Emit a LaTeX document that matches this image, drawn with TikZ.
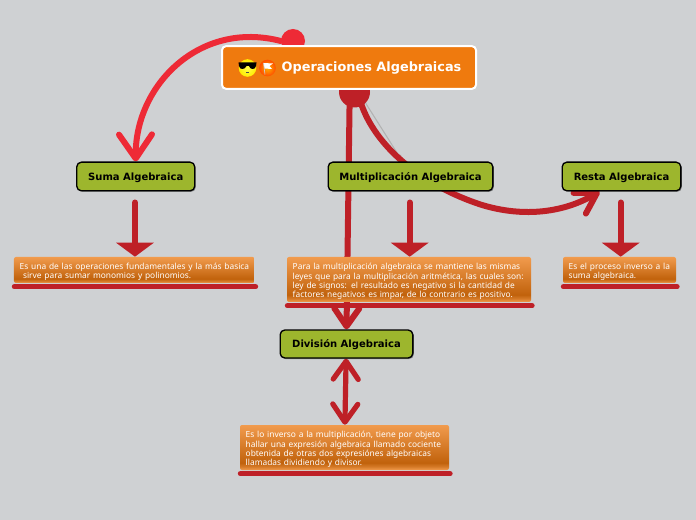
\documentclass[tikz,border=0pt]{standalone}
\usepackage{fontspec}
\setmainfont{Noto Sans}
\newfontfamily\titlefont{DejaVu Sans}
\usetikzlibrary{arrows.meta,shadows,calc}
\definecolor{bgc}{HTML}{CFD1D3}
\definecolor{deepred}{HTML}{BE2027}
\definecolor{brightred}{HTML}{EE2A36}
\definecolor{titleorange}{HTML}{EF7A0E}
\definecolor{leaf}{HTML}{9DB62D}
\definecolor{nlight}{HTML}{F19B4D}
\definecolor{ndark}{HTML}{C1620C}
\pgfdeclarelayer{bglayer}
\pgfdeclarelayer{connlayer}
\pgfsetlayers{bglayer,connlayer,main}
\pgfdeclareverticalshading{noteshade}{100bp}{
  color(0bp)=(nlight); color(25bp)=(nlight); color(29bp)=(ndark!60!nlight);
  color(33bp)=(ndark); color(75bp)=(nlight); color(100bp)=(nlight)}
\newcommand\tstrut{\rule{0pt}{8pt}}
\tikzset{
  x=.75pt,y=-.75pt,
  titlebox/.style={draw=white,line width=1.5pt,fill=titleorange,rounded corners=3pt,minimum width=190.5pt,minimum height=32pt,inner sep=0pt},
  titletext/.style={text=white,inner sep=0pt,font=\titlefont\bfseries\fontsize{9.65}{11}\selectfont},
  leafbox/.style={draw=black,line width=1pt,fill=leaf,rounded corners=3.5pt,minimum height=21.5pt,inner sep=0pt,
    font=\titlefont\bfseries\fontsize{7.5}{9}\selectfont,text=black,text height=7pt,text depth=1.5pt,
    drop shadow={shadow xshift=.8pt,shadow yshift=-.8pt,opacity=.35,fill=black}},
  notebox/.style={shading=noteshade,rounded corners=1.5pt,inner ysep=0pt,inner xsep=4.3pt,align=left,text=white,
    font=\fontsize{6.28}{7}\selectfont},
  barline/.style={draw=deepred,line width=3.9pt,line cap=round},
  hubnode/.style={circle,inner sep=0pt},
  thickline/.style={draw=deepred,line width=4.5pt,line cap=round},
  doubleline/.style={draw=deepred,line width=3.9pt,line cap=round},
  brightline/.style={draw=brightred,line width=4.5pt,line cap=round},
  tri/.style={-{Triangle[length=10.5pt,width=27.75pt]}},
  barbbig/.style={-{Straight Barb[length=18pt,width=24.75pt,round]}},
  barbmid/.style={-{Straight Barb[length=15pt,width=18pt,round]}},
  barbsmall/.style={{Straight Barb[length=13.5pt,width=18.75pt,round]}-{Straight Barb[length=13.5pt,width=18.75pt,round]}},
  barbone/.style={-{Straight Barb[length=13.5pt,width=18.75pt,round]}},
}
\begin{document}
\begin{tikzpicture}
\useasboundingbox (0,0) rectangle (696,520);
\begin{pgfonlayer}{bglayer}
  \fill[bgc] (0,0) rectangle (696,520);
\end{pgfonlayer}

% hubs
\begin{pgfonlayer}{connlayer}
  \node[hubnode,fill=brightred,minimum size=18pt] (hubtop) at (293,41) {};
  \node[hubnode,fill=deepred,minimum size=23.25pt] (hubmain) at (354.5,92) {};
\end{pgfonlayer}

% title
\node[titlebox] (title) at (349,67.5) {};
\node[titletext] (titlelabel) at (371.5,68.5) {Operaciones Algebraicas};

% emoji face
\shade[inner color=yellow!70!white,outer color=yellow!85!orange] (247.5,68) circle (6.6pt);
\fill[black] (238.5,62.5) -- (256.5,62.5) -- (256,66) .. controls (255.5,70) and (250,70) .. (249,66) -- (246.5,66) .. controls (245,70) and (239.5,70) .. (239,66) -- cycle;
\draw[black!70,line width=.3pt] (246,72.5) -- (249,72.5);
% flag icon
\shade[inner color=orange!60!yellow,outer color=orange!60!red] (267.5,68) circle (6.2pt);
\fill[white] (263.5,63) -- (273,63.5) -- (269.5,66) -- (272,69) -- (264.5,68.5) -- cycle;
\draw[white!80!black,line width=.5pt] (263.5,63) -- (265,74.5);

% level 1
\node[leafbox,minimum width=88.5pt] (suma) at (135.75,176.5) {Suma Algebraica};
\node[leafbox,minimum width=123.5pt] (mult) at (410.5,176.5) {Multiplicación Algebraica};
\node[leafbox,minimum width=89pt] (resta) at (621.5,176.5) {Resta Algebraica};
\node[leafbox,minimum width=99.5pt,minimum height=21pt] (divis) at (346.5,344) {División Algebraica};

% notes
\node[notebox,text width=171.8pt,minimum height=19.5pt] (sumanote) at (134.25,270)
  {\mbox{\tstrut Es una de las operaciones fundamentales y la más basica}\\\mbox{\hspace*{2.5pt}sirve para sumar monomios y polinomios.}};
\node[notebox,text width=174.4pt,minimum height=33.75pt] (multnote) at (409,279.5)
  {\mbox{\tstrut Para la multiplicación algebraica se mantiene las mismas}\\\mbox{leyes que para la multiplicación aritmética, las cuales son:}\\\mbox{ley de signos: el resultado es negativo si la cantidad de}\\\mbox{factores negativos es impar, de lo contrario es positivo.}};
\node[notebox,text width=76.15pt,minimum height=19.5pt] (restanote) at (619.5,270)
  {\mbox{\tstrut Es el proceso inverso a la}\\\mbox{suma algebraica.}};
\node[notebox,text width=148.15pt,minimum height=33.75pt] (divnote) at (344.5,447.5)
  {\mbox{\tstrut Es lo inverso a la multiplicación, tiene por objeto}\\\mbox{hallar una expresión algebraica llamado cociente}\\\mbox{obtenida de otras dos expresiónes algebraicas}\\\mbox{llamadas dividiendo y divisor.}};

% bars
\draw[barline] ([xshift=.5pt,yshift=-2.6pt]sumanote.south west) -- ([xshift=.6pt,yshift=-2.6pt]sumanote.south east);
\draw[barline] ([xshift=.5pt,yshift=-2.6pt]multnote.south west) -- ([xshift=.6pt,yshift=-2.6pt]multnote.south east);
\draw[barline] ([xshift=.5pt,yshift=-2.6pt]restanote.south west) -- ([xshift=.6pt,yshift=-2.6pt]restanote.south east);
\draw[barline] ([xshift=.5pt,yshift=-2.6pt]divnote.south west) -- ([xshift=.6pt,yshift=-2.6pt]divnote.south east);

% connectors
\begin{pgfonlayer}{connlayer}
  \draw[brightline,barbbig] (hubtop.west) .. controls (200,20) and (135,85) .. (suma.north);
  \draw[thickline,barbone] ([xshift=-3.7pt,yshift=3pt]hubmain.south) -- (divis.north);
  \draw[draw=black!30,line width=.8pt,-{Latex[length=5pt,width=4pt]}] (hubmain.south east) -- ([xshift=-6pt]mult.north);
  \draw[thickline,barbmid] ([xshift=5pt,yshift=3pt]hubmain.south) .. controls (375,145) and (420,185) .. (482,205)
     .. controls (525,218) and (565,212) .. ([xshift=-16.5pt]resta.south);
  \draw[thickline,tri] ([xshift=-.6pt,yshift=-8.25pt]suma.south) -- ([xshift=-.6pt]suma.south |- sumanote.north);
  \draw[thickline,tri] ([xshift=-.6pt,yshift=-8.25pt]mult.south) -- ([xshift=-.6pt]mult.south |- multnote.north);
  \draw[thickline,tri] ([xshift=-.6pt,yshift=-8.25pt]resta.south) -- ([xshift=-.6pt]resta.south |- restanote.north);
  \draw[doubleline,barbsmall] ([xshift=-.3pt]divis.south) -- ([xshift=.3pt]divnote.north);
\end{pgfonlayer}
\end{tikzpicture}
\end{document}
